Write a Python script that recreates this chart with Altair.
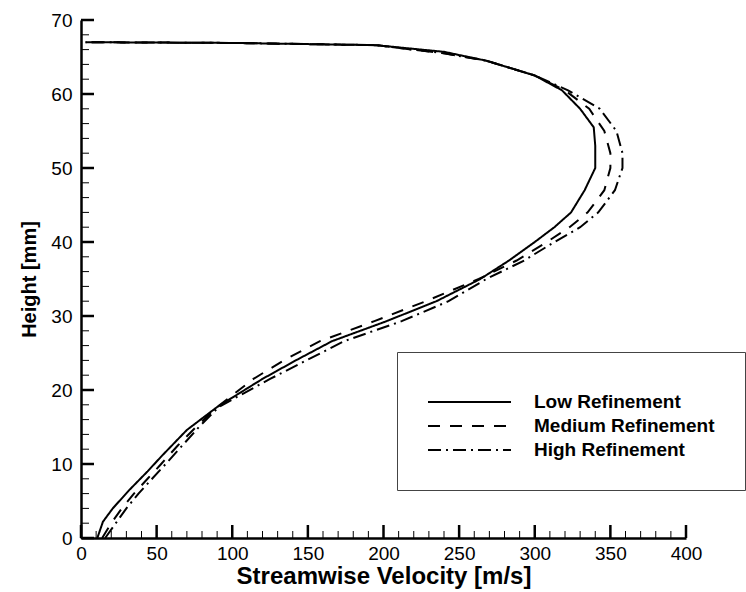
import altair as alt
import pandas as pd

# Velocity profiles (streamwise velocity in m/s vs. height in mm) for three mesh refinements
series_names = ["Low Refinement", "Medium Refinement", "High Refinement"]

low_h = [0, 2.2, 4, 6.5, 9, 11, 14.6, 17.7, 21.5, 24, 26.6, 29.3, 32, 35, 37.5, 40, 42, 44, 47, 50,
         53, 55.5, 58, 60.5, 62.5, 64.5, 65.7, 66.6, 66.9, 67]
low_v = [10.8, 14.5, 21, 32, 44, 53, 70, 90, 120, 142, 166, 202, 235, 264, 283, 300, 313, 324, 333, 340,
         340, 339, 330, 318, 300, 268, 240, 195, 100, 3]

med_h = [0, 2, 4, 6, 8, 10, 12.5, 15, 17.7, 21.5, 24, 26.6, 29.3, 32, 35, 37.5, 40, 42, 44, 47, 50,
         52, 55, 58, 60.5, 62.5, 64.5, 65.5, 66.6, 66.9, 67]
med_v = [14, 20, 27, 35, 44, 53, 64, 76, 90, 114, 134, 158, 194, 228, 263, 288, 308, 323, 335, 346, 350,
         350, 346, 336, 320, 300, 268, 240, 195, 100, 3]

high_h = [0, 2, 4, 6, 8, 10, 12.5, 15, 17.7, 21.5, 24, 26.6, 29.3, 32, 35, 37.5, 40, 42, 44, 47, 50,
          52, 55, 58, 60.5, 62.5, 64.5, 65.5, 66.6, 66.9, 67]
high_v = [16, 23, 30, 38, 47, 56, 67, 78, 91, 125, 149, 174, 212, 243, 268, 293, 313, 330, 342, 353, 358,
          358, 354, 343, 322, 300, 268, 240, 195, 100, 3]

dash_styles = [[1, 0], [12, 10], [13, 5, 2, 5]]

x_major = [0, 50, 100, 150, 200, 250, 300, 350, 400]
x_minor = [v for v in range(0, 401, 10) if v % 50 != 0]
y_major = [0, 10, 20, 30, 40, 50, 60, 70]
y_minor = [v for v in range(0, 71, 2) if v % 10 != 0]

rows = []
for name, vs, hs in zip(series_names, [low_v, med_v, high_v], [low_h, med_h, high_h]):
    for i, (v, h) in enumerate(zip(vs, hs)):
        rows.append({"series": name, "v": v, "h": h, "i": i})
profiles = pd.DataFrame(rows)

W, H = 605, 518
FONT = "Liberation Sans"

x_scale = alt.Scale(domain=[0, 400], nice=False, zero=False)
y_scale = alt.Scale(domain=[0, 70], nice=False, zero=False)

x_axis = alt.Axis(values=x_major, title="Streamwise Velocity [m/s]", ticks=False, grid=False,
                  domainColor="black", domainWidth=2.5, labelFontSize=19, labelColor="black",
                  labelPadding=6, labelFlush=False, labelOverlap=False, titleFontSize=24,
                  titleFontWeight="bold", titleColor="black", titlePadding=1,
                  labelFont=FONT, titleFont=FONT)
y_axis = alt.Axis(values=y_major, title="Height [mm]", ticks=False, grid=False,
                  domainColor="black", domainWidth=2.5, labelFontSize=19, labelColor="black",
                  labelPadding=9, labelFlush=False, labelOverlap=False, titleFontSize=20,
                  titleFontWeight="bold", titleColor="black", titlePadding=11,
                  labelFont=FONT, titleFont=FONT)

legend = alt.Legend(orient="none", legendX=316, legendY=332, title=" ", titleFontSize=10,
                    titlePadding=2, padding=30, strokeColor="#444444", fillColor="white",
                    symbolType="stroke", symbolSize=83 * 83, symbolStrokeWidth=2,
                    symbolStrokeColor="black", labelFontSize=19, labelFontWeight="bold",
                    labelFont=FONT, labelColor="black", labelOffset=22, labelLimit=0,
                    clipHeight=16, rowPadding=5)

lines = alt.Chart(profiles).mark_line(color="black", strokeWidth=2).encode(
    x=alt.X("v:Q", scale=x_scale, axis=x_axis),
    y=alt.Y("h:Q", scale=y_scale, axis=y_axis),
    strokeDash=alt.StrokeDash("series:N", scale=alt.Scale(domain=series_names, range=dash_styles),
                              legend=legend),
    order="i:Q",
)

# Inward-pointing tick marks along both axes
xt_major = alt.Chart(pd.DataFrame({"v": x_major})).mark_rule(color="black", strokeWidth=2.5).encode(
    x=alt.X("v:Q", scale=x_scale, axis=x_axis), y=alt.value(H), y2=alt.value(H - 13))
xt_minor = alt.Chart(pd.DataFrame({"v": x_minor})).mark_rule(color="black", strokeWidth=1).encode(
    x=alt.X("v:Q", scale=x_scale, axis=x_axis), y=alt.value(H), y2=alt.value(H - 7))
yt_major = alt.Chart(pd.DataFrame({"h": y_major})).mark_rule(color="black", strokeWidth=2.5).encode(
    y=alt.Y("h:Q", scale=y_scale, axis=y_axis), x=alt.value(0), x2=alt.value(13))
yt_minor = alt.Chart(pd.DataFrame({"h": y_minor})).mark_rule(color="black", strokeWidth=1).encode(
    y=alt.Y("h:Q", scale=y_scale, axis=y_axis), x=alt.value(0), x2=alt.value(8))

chart = alt.layer(xt_major, xt_minor, yt_major, yt_minor, lines).properties(
    width=W, height=H,
    autosize=alt.AutoSizeParams(type="none"),
    padding={"left": 81, "top": 20, "right": 60, "bottom": 54},
    background="white",
).configure_view(stroke=None)

chart.save("out.html", embed_options={"renderer": "svg", "actions": False})
